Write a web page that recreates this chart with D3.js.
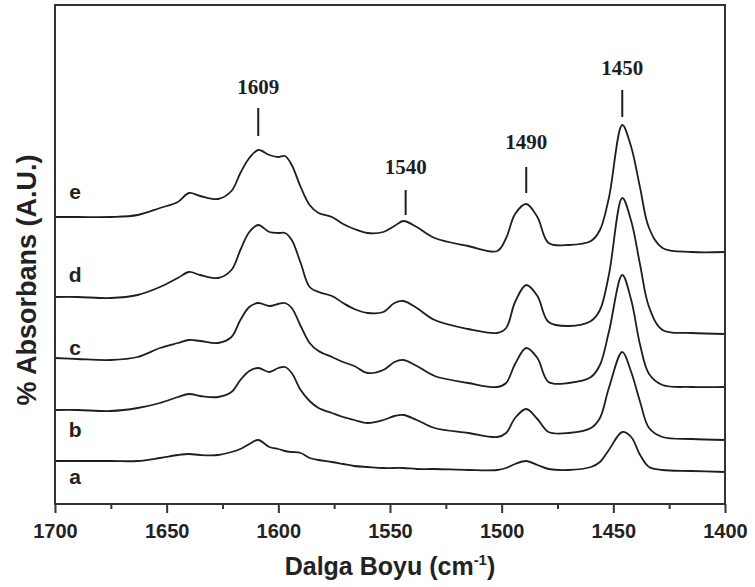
<!DOCTYPE html>
<html>
<head>
<meta charset="utf-8">
<script src="https://cdn.jsdelivr.net/npm/d3@7"></script>
<style>
  html, body { margin: 0; padding: 0; background: #fff; }
  svg { display: block; }
</style>
</head>
<body>
<svg id="chart" width="755" height="587"></svg>
<script>
// ---- data (wavenumber in cm^-1, absorbance in arbitrary units) ----
const wavenumbers = [1700,1690,1675,1663,1653,1645,1640,1635,1627,1621,1617,1613,1609,1604,1600,1597,1594,1590,1586,1582,1576,1571,1566,1560,1553,1548,1544,1538,1530,1515,1502,1498,1494,1489,1484,1479,1470,1460,1456,1452,1446,1442,1438,1434,1428,1415,1400];

const seriesA = [0.43,0.43,0.43,0.43,0.46,0.49,0.50,0.49,0.49,0.52, 0.55,0.60,0.64,0.57,0.55,0.53,0.52,0.51,0.46,0.44, 0.42,0.40,0.38,0.37,0.36,0.36,0.36,0.35,0.35,0.34, 0.34,0.36,0.40,0.43,0.39,0.35,0.34,0.37,0.42,0.54, 0.72,0.67,0.49,0.37,0.34,0.33,0.32];
const seriesB = [0.94,0.94,0.93,0.96,1.01,1.07,1.10,1.08,1.07,1.12, 1.24,1.33,1.36,1.32,1.36,1.37,1.31,1.14,1.03,0.96, 0.91,0.87,0.84,0.81,0.84,0.88,0.89,0.84,0.76,0.71, 0.67,0.71,0.86,0.95,0.85,0.72,0.71,0.76,0.86,1.16, 1.52,1.32,1.02,0.76,0.67,0.65,0.64];
const seriesC = [1.46,1.45,1.44,1.47,1.56,1.61,1.64,1.63,1.61,1.67, 1.84,1.97,2.01,1.98,2.00,2.01,1.96,1.78,1.61,1.53, 1.47,1.42,1.38,1.31,1.34,1.42,1.44,1.38,1.28,1.21, 1.17,1.21,1.40,1.56,1.46,1.22,1.21,1.27,1.39,1.72, 2.29,2.04,1.59,1.30,1.19,1.17,1.17];
const seriesD = [2.07,2.07,2.06,2.09,2.17,2.26,2.32,2.29,2.26,2.34, 2.54,2.72,2.79,2.72,2.71,2.71,2.64,2.41,2.17,2.12, 2.08,2.01,1.95,1.91,1.92,2.01,2.03,1.96,1.84,1.75, 1.71,1.76,2.02,2.19,2.08,1.82,1.78,1.83,1.94,2.29, 3.06,2.83,2.39,1.97,1.74,1.71,1.70];
const seriesE = [2.87,2.87,2.87,2.89,2.96,3.02,3.11,3.08,3.05,3.13, 3.31,3.46,3.54,3.49,3.47,3.48,3.39,3.17,2.99,2.91, 2.87,2.80,2.75,2.71,2.72,2.78,2.83,2.77,2.66,2.58, 2.53,2.66,2.90,3.00,2.87,2.61,2.59,2.63,2.74,3.06, 3.79,3.57,3.16,2.76,2.56,2.52,2.52];

const seriesNames = ["a","b","c","d","e"];
const seriesValues = [seriesA, seriesB, seriesC, seriesD, seriesE];
const seriesLabelLevel = [0.27, 0.74, 1.56, 2.29, 3.12];

const xTickValues = [1700,1650,1600,1550,1500,1450,1400];
const xMinorTickValues = [1675,1625,1575,1525,1475,1425];

const peakLabels = ["1609","1540","1490","1450"];
const peakWave = [1609,1543,1489,1446];
const peakMarkTop = [3.96,3.14,3.37,4.14];
const peakMarkBottom = [3.68,2.89,3.11,3.87];
const peakLabelLevel = [4.17,3.37,3.62,4.36];

const xTitle = "Dalga Boyu (cm";
const yTitle = "% Absorbans (A.U.)";

// ---- layout ----
const plotLeft = 55, plotRight = 725, plotTop = 5, plotBottom = 504;
const svg = d3.select("#chart");

const x = d3.scaleLinear().domain([1700, 1400]).range([plotLeft, plotRight]);
const y = d3.scaleLinear().domain([0, 4.99]).range([plotBottom, plotTop]);

const line = d3.line()
  .x((d) => x(d[0]))
  .y((d) => y(d[1]))
  .curve(d3.curveCatmullRom.alpha(0.5));

// curves
svg.append("g")
  .selectAll("path")
  .data(seriesValues)
  .join("path")
  .attr("d", (vals) => line(wavenumbers.map((w, i) => [w, vals[i]])))
  .attr("fill", "none")
  .attr("stroke", "#1e1e1e")
  .attr("stroke-width", 1.8)
  .attr("stroke-linejoin", "round");

// series letters
svg.append("g")
  .selectAll("text")
  .data(seriesNames)
  .join("text")
  .attr("x", x(1691))
  .attr("y", (d, i) => y(seriesLabelLevel[i]))
  .attr("dy", "0.35em")
  .attr("text-anchor", "middle")
  .attr("font-family", "Liberation Sans, Arial, sans-serif")
  .attr("font-weight", "bold")
  .attr("font-size", 21)
  .attr("fill", "#222")
  .text((d) => d);

// peak marks
const marks = svg.append("g");
peakLabels.forEach((lab, i) => {
  marks.append("line")
    .attr("x1", x(peakWave[i])).attr("x2", x(peakWave[i]))
    .attr("y1", y(peakMarkTop[i])).attr("y2", y(peakMarkBottom[i]))
    .attr("stroke", "#1e1e1e").attr("stroke-width", 2);
  marks.append("text")
    .attr("x", x(peakWave[i]))
    .attr("y", y(peakLabelLevel[i]))
    .attr("dy", "0.35em")
    .attr("text-anchor", "middle")
    .attr("font-family", "Liberation Serif, Times New Roman, serif")
    .attr("font-weight", "bold")
    .attr("font-size", 21)
    .attr("fill", "#1e1e1e")
    .text(lab);
});

// frame
svg.append("rect")
  .attr("x", plotLeft).attr("y", plotTop)
  .attr("width", plotRight - plotLeft).attr("height", plotBottom - plotTop)
  .attr("fill", "none")
  .attr("stroke", "#333")
  .attr("stroke-width", 2);

// x axis
const xAxis = svg.append("g")
  .attr("transform", `translate(0,${plotBottom})`)
  .call(d3.axisBottom(x).tickValues(xTickValues).tickFormat(d3.format("d")).tickSize(9).tickPadding(11));
xAxis.select(".domain").remove();
xAxis.selectAll(".tick line").attr("stroke", "#333").attr("stroke-width", 2);
xAxis.selectAll(".tick text")
  .attr("font-family", "Liberation Sans, Arial, sans-serif")
  .attr("font-weight", "bold")
  .attr("font-size", 20)
  .attr("fill", "#222");

const xMinor = svg.append("g")
  .attr("transform", `translate(0,${plotBottom})`)
  .call(d3.axisBottom(x).tickValues(xMinorTickValues).tickFormat("").tickSize(5));
xMinor.select(".domain").remove();
xMinor.selectAll(".tick line").attr("stroke", "#333").attr("stroke-width", 2);

// x title
const xt = svg.append("text")
  .attr("x", (plotLeft + plotRight) / 2)
  .attr("y", 575)
  .attr("text-anchor", "middle")
  .attr("font-family", "Liberation Sans, Arial, sans-serif")
  .attr("font-weight", "bold")
  .attr("font-size", 25)
  .attr("fill", "#222");
xt.append("tspan").text(xTitle);
xt.append("tspan").attr("dy", -10).attr("font-size", 15).text("-1");
xt.append("tspan").attr("dy", 10).text(")");

// y title
svg.append("text")
  .attr("transform", "translate(36,280) rotate(-90)")
  .attr("text-anchor", "middle")
  .attr("font-family", "Liberation Sans, Arial, sans-serif")
  .attr("font-weight", "bold")
  .attr("font-size", 27)
  .attr("fill", "#222")
  .text(yTitle);
</script>
</body>
</html>
